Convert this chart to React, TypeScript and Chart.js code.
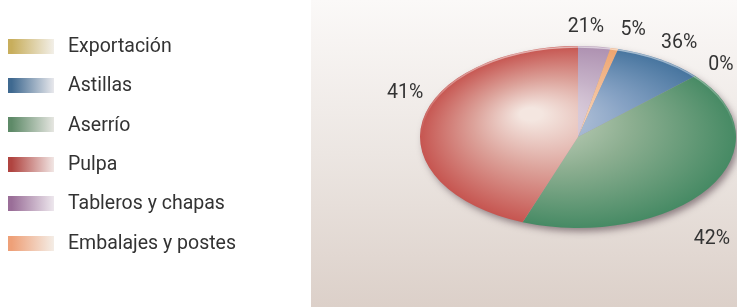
import React, { useEffect, useRef } from "react";
import { Chart, registerables } from "chart.js";
Chart.register(...registerables);

// Legend order
const categories = ["Exportación", "Astillas", "Aserrío", "Pulpa", "Tableros y chapas", "Embalajes y postes"];
// Pie order (clockwise from 12 o'clock)
const sliceCategories = ["Tableros y chapas", "Embalajes y postes", "Astillas", "Exportación", "Aserrío", "Pulpa"];
const sliceValues = [3.3, 0.8, 9.2, 0, 42.4, 44.3];
const sliceLabels = ["21%", "5%", "36%", "0%", "42%", "41%"];

const palette: Record<string, { base: string; mid: string; light: string; swatch: string; swatchEnd: string }> = {
  "Exportación": { base: "#c9b060", mid: "#dccb90", light: "#efe6c8", swatch: "#c8ae5c", swatchEnd: "#f2efe8" },
  "Astillas": { base: "#46749e", mid: "#86a2c4", light: "#c4cee0", swatch: "#3f6990", swatchEnd: "#e8e8ec" },
  "Aserrío": { base: "#468a64", mid: "#8cae90", light: "#c8d4c0", swatch: "#5e8a68", swatchEnd: "#e6e6e1" },
  "Pulpa": { base: "#c65550", mid: "#dca29a", light: "#f4e6e0", swatch: "#b04440", swatchEnd: "#f1e6e4" },
  "Tableros y chapas": { base: "#ad90b0", mid: "#c6b2c8", light: "#e4dae4", swatch: "#9a6e98", swatchEnd: "#ede7ed" },
  "Embalajes y postes": { base: "#eea46e", mid: "#f2bc94", light: "#f8dcc4", swatch: "#eea078", swatchEnd: "#f4ede6" },
};

const SX = 1.58;
const SY = 0.91;
const FONT = "19.5px Roboto";

const ellipsePlugin = {
  id: "ellipsePie",
  beforeDraw(chart: any) {
    const ctx = chart.ctx as CanvasRenderingContext2D;
    const g = ctx.createLinearGradient(0, 0, 0, chart.height);
    g.addColorStop(0, "#fbf9f8");
    g.addColorStop(0.5, "#ece6e2");
    g.addColorStop(1, "#dcd0c9");
    ctx.save();
    ctx.fillStyle = "#ffffff";
    ctx.fillRect(0, 0, chart.width, chart.height);
    ctx.fillStyle = g;
    ctx.fillRect(311, 0, chart.width - 311, chart.height);
    ctx.restore();
  },
  beforeDatasetsDraw(chart: any) {
    const arc = chart.getDatasetMeta(0).data[0];
    const { x: cx, y: cy, outerRadius: r } = arc.getProps(["x", "y", "outerRadius"], true);
    const ctx = chart.ctx as CanvasRenderingContext2D;
    ctx.save();
    ctx.save();
    ctx.shadowColor = "rgba(70,50,60,0.55)";
    ctx.shadowBlur = 7;
    ctx.shadowOffsetX = 3;
    ctx.shadowOffsetY = 4;
    ctx.fillStyle = "#a89aa0";
    ctx.beginPath();
    ctx.ellipse(cx, cy, r * SX - 0.5, r * SY - 0.5, 0, 0, Math.PI * 2);
    ctx.fill();
    ctx.restore();
    ctx.translate(cx, cy);
    ctx.scale(SX, SY);
    ctx.translate(-cx, -cy);
  },
  afterDatasetsDraw(chart: any, _args: any, opts: any) {
    const ctx = chart.ctx as CanvasRenderingContext2D;
    ctx.restore();
    const meta = chart.getDatasetMeta(0);
    const p0 = meta.data[0].getProps(["x", "y", "outerRadius"], true);
    // soft light rim along the top edge
    ctx.save();
    const rg = ctx.createLinearGradient(0, p0.y - p0.outerRadius * SY, 0, p0.y);
    rg.addColorStop(0, "rgba(255,255,255,0.55)");
    rg.addColorStop(1, "rgba(255,255,255,0)");
    ctx.strokeStyle = rg;
    ctx.lineWidth = 1.5;
    ctx.beginPath();
    ctx.ellipse(p0.x, p0.y, p0.outerRadius * SX - 1, p0.outerRadius * SY - 1, 0, Math.PI, Math.PI * 2);
    ctx.stroke();
    ctx.restore();

    ctx.save();
    ctx.font = FONT;
    ctx.fillStyle = "#333333";
    ctx.textAlign = "center";
    ctx.textBaseline = "middle";
    meta.data.forEach((el: any, i: number) => {
      const p = el.getProps(["x", "y", "startAngle", "endAngle", "outerRadius"], true);
      const ov = (opts.placement || [])[i];
      const a = ov ? (ov.angle * Math.PI) / 180 : (p.startAngle + p.endAngle) / 2;
      const f = ov ? ov.factor : 1.24;
      const x = p.x + Math.cos(a) * p.outerRadius * f * SX;
      const y = p.y + Math.sin(a) * p.outerRadius * f * SY;
      ctx.fillText(sliceLabels[i], x, y + 3);
    });
    ctx.restore();
  },
  afterDraw(chart: any) {
    const ctx = chart.ctx as CanvasRenderingContext2D;
    ctx.save();
    categories.forEach((name, i) => {
      const yc = 46 + i * 39.4;
      const c = palette[name];
      const g = ctx.createLinearGradient(8, 0, 54, 0);
      g.addColorStop(0, c.swatch);
      g.addColorStop(0.08, c.swatch);
      g.addColorStop(1, c.swatchEnd);
      ctx.fillStyle = g;
      ctx.fillRect(8, Math.round(yc - 7.5), 46, 15);
      ctx.font = FONT;
      ctx.fillStyle = "#333333";
      ctx.textAlign = "left";
      ctx.textBaseline = "middle";
      ctx.fillText(name, 68, yc + 1);
    });
    ctx.restore();
  },
};

function sliceFill(c: any) {
  const name = sliceCategories[c.dataIndex];
  const col = palette[name];
  const chart = c.chart;
  const area = chart.chartArea;
  if (!area) return col.base;
  const cx = (area.left + area.right) / 2;
  const cy = (area.top + area.bottom) / 2;
  const r = Math.min(area.right - area.left, area.bottom - area.top) / 2;
  const g = chart.ctx.createRadialGradient(cx - r * 0.32, cy - r * 0.27, 0, cx, cy, r);
  g.addColorStop(0, col.light);
  g.addColorStop(0.07, col.light);
  g.addColorStop(0.5, col.mid);
  g.addColorStop(1, col.base);
  return g;
}

export default function App() {
  const ref = useRef<HTMLCanvasElement | null>(null);
  useEffect(() => {
    document.body.style.margin = "0";
    const canvas = ref.current!;
    const chart = new Chart(canvas, {
      type: "pie",
      data: {
        labels: sliceCategories,
        datasets: [
          {
            data: sliceValues,
            backgroundColor: sliceFill as any,
            borderWidth: 0,
            hoverOffset: 0,
            radius: 100,
          } as any,
        ],
      },
      options: {
        responsive: false,
        animation: false,
        events: [],
        layout: { padding: { left: 478, right: 59, top: 37, bottom: 70 } },
        plugins: {
          legend: { display: false },
          tooltip: { enabled: false },
          ellipsePie: {
            placement: [
              { angle: -87.7, factor: 1.243 },
              { angle: -73.9, factor: 1.258 },
              { angle: -59.0, factor: 1.243 },
              { angle: -42.3, factor: 1.223 },
              { angle: 52.1, factor: 1.379 },
              { angle: 205.3, factor: 1.21 },
            ],
          },
        } as any,
      },
      plugins: [ellipsePlugin],
    });
    return () => chart.destroy();
  }, []);
  return (
    <div style={{ width: 737, height: 307 }}>
      <canvas ref={ref} width={737} height={307} style={{ width: 737, height: 307, display: "block" }} />
    </div>
  );
}
